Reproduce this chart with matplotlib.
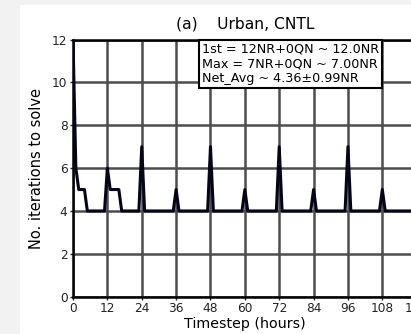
import matplotlib
matplotlib.use("Agg")
import matplotlib.pyplot as plt
from matplotlib.patches import Rectangle

hours = list(range(0, 121))
iterations = [
    12, 6, 5, 5, 5, 4, 4, 4, 4, 4, 4, 4,
    6, 5, 5, 5, 5, 4, 4, 4, 4, 4, 4, 4,
    7, 4, 4, 4, 4, 4, 4, 4, 4, 4, 4, 4,
    5, 4, 4, 4, 4, 4, 4, 4, 4, 4, 4, 4,
    7, 4, 4, 4, 4, 4, 4, 4, 4, 4, 4, 4,
    5, 4, 4, 4, 4, 4, 4, 4, 4, 4, 4, 4,
    7, 4, 4, 4, 4, 4, 4, 4, 4, 4, 4, 4,
    5, 4, 4, 4, 4, 4, 4, 4, 4, 4, 4, 4,
    7, 4, 4, 4, 4, 4, 4, 4, 4, 4, 4, 4,
    5, 4, 4, 4, 4, 4, 4, 4, 4, 4, 4, 4,
    7,
]
xticks = [0, 12, 24, 36, 48, 60, 72, 84, 96, 108, 120]
yticks = [0, 2, 4, 6, 8, 10, 12]
title = "(a)    Urban, CNTL"
xlabel = "Timestep (hours)"
ylabel = "No. iterations to solve"
box_lines = [
    "1st = 12NR+0QN ~ 12.0NR",
    "Max = 7NR+0QN ~ 7.00NR",
    "Net_Avg ~ 4.36\u00b10.99NR",
]

W, H = 411, 334
fig = plt.figure(figsize=(W / 100, H / 100), dpi=100, facecolor="#f2f2f2")
fig.patches.append(Rectangle((20 / W, 0), 1 - 20 / W, (H - 5) / H,
                             transform=fig.transFigure, facecolor="white",
                             edgecolor="none", zorder=-10))

ax_left = 73 / W
ax_right = 416.7 / W
ax_bottom = (H - 296.7) / H
ax_top = (H - 39.5) / H
ax = fig.add_axes([ax_left, ax_bottom, ax_right - ax_left, ax_top - ax_bottom])
ax.set_facecolor("white")

ax.plot(hours, iterations, color="#05051a", lw=2.2, zorder=3)

ax.set_xlim(0, 120)
ax.set_ylim(0, 12)
ax.set_xticks(xticks)
ax.set_yticks(yticks)
ax.tick_params(labelsize=8.7, length=2.5, width=1, pad=1.5, colors="#222222")
ax.grid(True, color="0.3", lw=1.8, zorder=1)
for s in ax.spines.values():
    s.set_linewidth(1.8)
    s.set_color("black")

ax.set_title(title, fontsize=11.2, pad=8)
ax.set_xlabel(xlabel, fontsize=10.3, labelpad=1)
ax.set_ylabel(ylabel, fontsize=10.5, labelpad=6)

ax.text(0.375, 0.99, "\n".join(box_lines), transform=ax.transAxes,
        ha="left", va="top", fontsize=9.2, zorder=5,
        bbox=dict(boxstyle="square,pad=0.2", facecolor="white",
                  edgecolor="black", lw=1.5))

fig.savefig("out.png", dpi=100, facecolor=fig.get_facecolor())
